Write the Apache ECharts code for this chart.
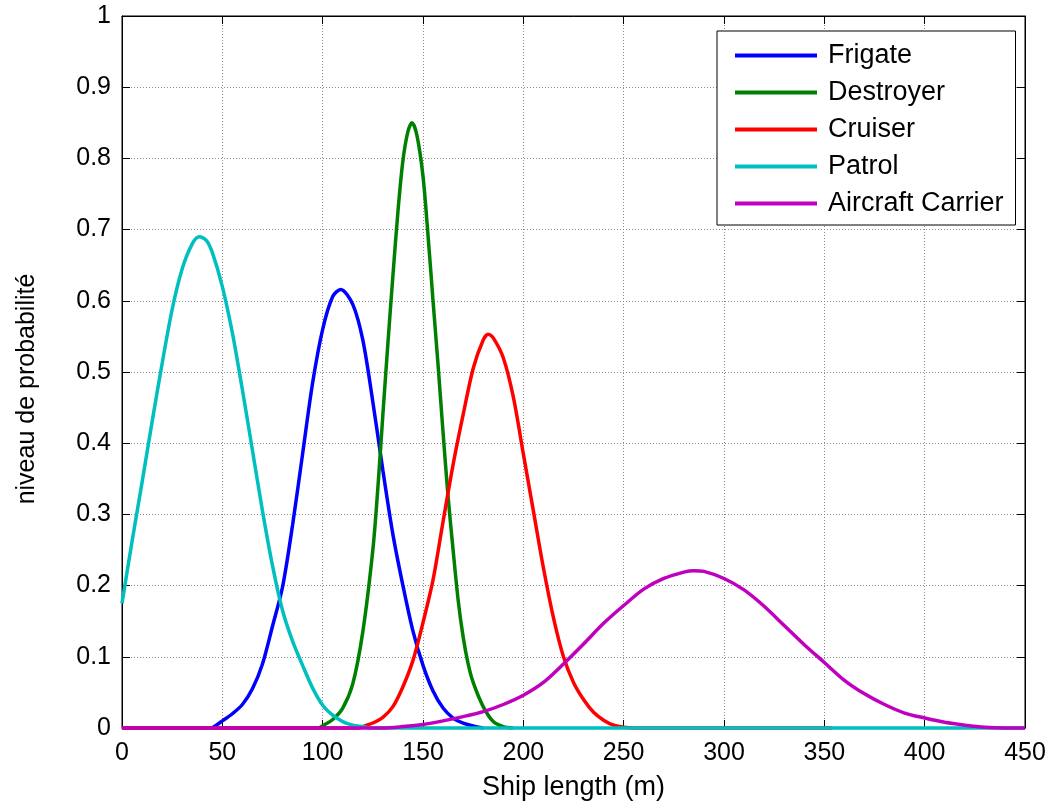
<!DOCTYPE html>
<html>
<head>
<meta charset="utf-8">
<script src="https://cdn.jsdelivr.net/npm/echarts@6/dist/echarts.min.js"></script>
<style>
html,body{margin:0;padding:0;background:#fff;}
#chart{width:1054px;height:806px;}
</style>
</head>
<body>
<div id="chart"></div>
<script>
// ---- data: [ship length (m), probability level] ----
const seriesNames = ['Frigate', 'Destroyer', 'Cruiser', 'Patrol', 'Aircraft Carrier'];
const xTicks = [0, 50, 100, 150, 200, 250, 300, 350, 400, 450];
const yTicks = [0, 0.1, 0.2, 0.3, 0.4, 0.5, 0.6, 0.7, 0.8, 0.9, 1];

const frigate = [[0,0],[44,0],[47,0.004],[50,0.01],[55,0.02],[60,0.033],[65,0.055],[70,0.09],[75,0.143],[80,0.198],[85,0.285],[90,0.385],[95,0.485],[100,0.56],[105,0.606],[109,0.616],[115,0.595],[120,0.545],[125,0.458],[130,0.362],[135,0.272],[140,0.2],[145,0.136],[150,0.088],[155,0.052],[160,0.028],[165,0.014],[170,0.007],[175,0.003],[180,0]];

const destroyer = [[0,0],[98,0],[100,0.003],[105,0.012],[110,0.028],[115,0.062],[120,0.135],[125,0.25],[127.5,0.337],[130,0.44],[132.5,0.54],[135,0.635],[137.5,0.725],[140,0.797],[142.5,0.838],[144.5,0.85],[147,0.832],[150,0.775],[152.5,0.692],[155,0.6],[157.5,0.51],[160,0.415],[162.5,0.325],[165,0.25],[167.5,0.18],[170,0.128],[172.5,0.09],[175,0.064],[180,0.03],[185,0.009],[190,0.002],[195,0]];

const cruiser = [[0,0],[118,0],[120,0.002],[125,0.007],[130,0.015],[135,0.03],[140,0.058],[145,0.095],[150,0.148],[155,0.208],[160,0.29],[165,0.37],[170,0.44],[175,0.505],[180,0.545],[182.5,0.553],[185,0.548],[190,0.52],[195,0.465],[200,0.385],[205,0.305],[210,0.225],[215,0.155],[220,0.1],[225,0.064],[230,0.04],[235,0.022],[240,0.011],[245,0.004],[250,0.001],[255,0],[354,0]];

const patrol = [[0,0.175],[5,0.262],[10,0.345],[15,0.43],[20,0.512],[25,0.588],[30,0.645],[35,0.68],[38.5,0.69],[42,0.685],[45,0.668],[50,0.62],[55,0.555],[60,0.475],[65,0.39],[70,0.305],[75,0.228],[80,0.165],[85,0.122],[90,0.088],[95,0.056],[100,0.032],[105,0.018],[110,0.009],[115,0.004],[120,0.002],[125,0],[450,0]];

const carrier = [[0,0],[130,0],[140,0.002],[150,0.005],[160,0.01],[170,0.016],[180,0.023],[190,0.033],[200,0.046],[210,0.064],[220,0.09],[230,0.118],[240,0.147],[250,0.172],[260,0.195],[270,0.21],[280,0.219],[285,0.221],[290,0.22],[300,0.21],[310,0.194],[320,0.171],[330,0.144],[340,0.117],[350,0.092],[360,0.067],[370,0.048],[380,0.033],[390,0.021],[400,0.014],[410,0.008],[420,0.004],[430,0.001],[440,0],[450,0]];

const seriesData = [frigate, destroyer, cruiser, patrol, carrier];
const seriesColors = ['#0000ff', '#008000', '#ff0000', '#00bfbf', '#bf00bf'];

const FONT = '"Liberation Sans", Arial, Helvetica, sans-serif';
const chart = echarts.init(document.getElementById('chart'), null, {renderer: 'canvas'});

const gridLine = {show: true, lineStyle: {color: '#8a8a8a', width: 1, type: [1, 2]}};
const tickStyle = {show: true, inside: true, length: 8, lineStyle: {color: '#000', width: 1}};
const axisLine = {show: true, onZero: false, lineStyle: {color: '#000', width: 1}};

const option = {
  animation: false,
  backgroundColor: '#ffffff',
  grid: {left: 122, right: 29, top: 16, bottom: 77, show: true, borderColor: '#000', borderWidth: 1, backgroundColor: 'transparent'},
  legend: {
    orient: 'vertical', left: 717, top: 31,
    padding: [6, 12, 3, 18],
    backgroundColor: '#fff', borderColor: '#000', borderWidth: 1, borderRadius: 0,
    icon: 'rect',
    itemWidth: 82, itemHeight: 4, itemGap: 0,
    textStyle: {fontSize: 27, fontFamily: FONT, color: '#000', lineHeight: 37, padding: [0, 0, 0, 6]},
    data: seriesNames
  },
  xAxis: [
    {
      type: 'value', min: xTicks[0], max: xTicks[xTicks.length - 1], interval: xTicks[1] - xTicks[0], position: 'bottom',
      axisLine: axisLine, axisTick: tickStyle,
      axisLabel: {color: '#000', fontSize: 25, fontFamily: FONT, margin: 13},
      splitLine: gridLine,
      name: 'Ship length (m)', nameLocation: 'middle', nameGap: 46,
      nameTextStyle: {color: '#000', fontSize: 27, fontFamily: FONT}
    },
    {
      type: 'value', min: xTicks[0], max: xTicks[xTicks.length - 1], interval: xTicks[1] - xTicks[0], position: 'top',
      axisLine: axisLine, axisTick: tickStyle, axisLabel: {show: false}, splitLine: {show: false}
    }
  ],
  yAxis: [
    {
      type: 'value', min: yTicks[0], max: yTicks[yTicks.length - 1], interval: 0.1, position: 'left',
      axisLine: axisLine, axisTick: tickStyle,
      axisLabel: {color: '#000', fontSize: 25, fontFamily: FONT, margin: 11},
      splitLine: gridLine,
      name: 'niveau de probabilité', nameLocation: 'middle', nameGap: 82, nameRotate: 90,
      nameTextStyle: {color: '#000', fontSize: 25, fontFamily: FONT, padding: [0, 34, 0, 0]}
    },
    {
      type: 'value', min: yTicks[0], max: yTicks[yTicks.length - 1], interval: 0.1, position: 'right',
      axisLine: axisLine, axisTick: tickStyle, axisLabel: {show: false}, splitLine: {show: false}
    }
  ],
  series: seriesNames.map((name, i) => ({
    name: name,
    type: 'line',
    data: seriesData[i],
    xAxisIndex: 0, yAxisIndex: 0,
    symbol: 'none', showSymbol: false,
    smooth: 0.3,
    clip: false,
    color: seriesColors[i],
    lineStyle: {color: seriesColors[i], width: 3.5},
    itemStyle: {color: seriesColors[i]},
    z: 2 + i
  }))
};
chart.setOption(option);
</script>
</body>
</html>
